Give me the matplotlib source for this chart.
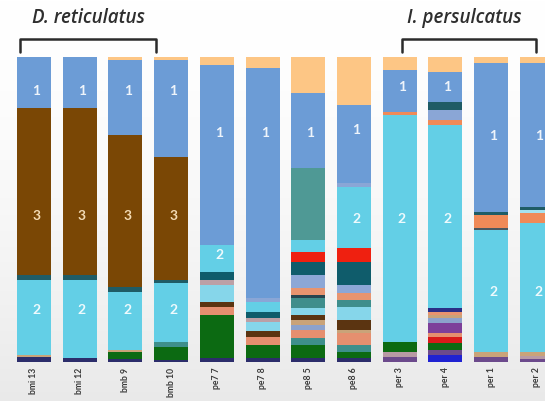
import numpy as np
import matplotlib
matplotlib.use("Agg")
import matplotlib.pyplot as plt
from matplotlib.lines import Line2D

# Sample names (x axis)
samples = ["bmi 13", "bmi 12", "bmb 9", "bmb 10", "pe7 7", "pe7 8",
           "pe8 5", "pe8 6", "per 3", "per 4", "per 1", "per 2"]

# Relative abundance (%) per taxon, one value per sample; stacked bottom -> top
navy       = [1.6, 1.3, 1.0, 0.7, 1.3, 1.3, 1.3, 1.3, 0, 0, 0, 0]
royal      = [0, 0, 0, 0, 0, 0, 0, 0, 0, 2.3, 0, 0]
purple     = [0, 0, 0, 0, 0, 0, 0, 0, 1.6, 1.6, 1.6, 1.0]
pink_low   = [0, 0, 0, 0, 0, 0, 0, 0, 1.6, 0, 0, 1.0]
green      = [0, 0, 2.3, 4.3, 14.1, 4.3, 4.3, 2.0, 3.3, 2.3, 0, 0]
red_low    = [0, 0, 0, 0, 0, 0, 0, 0, 0, 2.0, 0, 0]
teal_a     = [0, 0, 0, 1.6, 0, 0, 2.3, 2.3, 0, 0, 0, 0]
salmon_a   = [0, 0, 0, 0, 2.6, 2.6, 2.6, 3.9, 0, 1.3, 0, 0]
violet     = [0, 0, 0, 0, 0, 0, 0, 0, 0, 3.3, 0, 0]
bluegray_a = [0, 0, 0, 0, 0, 0, 1.6, 0, 0, 1.6, 0, 0]
tan        = [0.7, 0, 0.7, 0, 0, 0, 1.6, 1.0, 0, 1.0, 1.6, 1.3]
dbrown     = [0, 0, 0, 0, 1.6, 2.0, 1.6, 3.3, 0, 0, 0, 0]
lcyan      = [0, 0, 0, 0, 5.6, 3.0, 2.3, 4.3, 0, 0, 0, 0]
teal_b     = [0, 0, 0, 0, 0, 0, 3.3, 2.3, 0, 0, 0, 0]
dark_b     = [0, 0, 0, 0, 0, 0, 1.0, 0, 0, 0, 0, 0]
salmon_b   = [0, 0, 0, 0, 0, 0, 2.3, 2.3, 0, 1.0, 0, 0]
mauve      = [0, 0, 0, 0, 1.6, 1.3, 0, 0, 0, 0, 0, 0]
bluegray_b = [0, 0, 0, 0, 0, 0, 4.3, 2.6, 0, 0, 0, 0]
dteal      = [0, 0, 0, 0, 2.6, 2.0, 4.3, 7.5, 0, 0, 0, 0]
red        = [0, 0, 0, 0, 0, 0, 3.3, 4.6, 0, 0, 0, 0]
navy_hi    = [0, 0, 0, 0, 0, 0, 0, 0, 0, 1.3, 0, 0]
cyan2      = [24.6, 25.6, 19.0, 19.3, 8.9, 3.3, 3.9, 20.0, 74.4, 60.0, 40.0, 42.3]
darkgray   = [0, 0, 0, 0, 0, 0, 0, 0, 0, 0, 0.7, 0]
orange     = [0, 0, 0, 0, 0, 0, 0, 0, 1.0, 1.6, 4.3, 3.3]
ice        = [0, 0, 0, 0, 0, 0, 0, 0, 0, 0, 0, 1.0]
bluegray_c = [0, 0, 0, 0, 0, 1.3, 0, 1.3, 0, 3.3, 0, 0]
dteal2     = [1.6, 1.6, 1.6, 1.0, 0, 0, 0, 0, 0, 2.6, 1.0, 1.0]
brown3     = [54.8, 54.8, 49.8, 40.3, 0, 0, 0, 0, 0, 0, 0, 0]
grayteal   = [0, 0, 0, 0, 0, 0, 23.6, 0, 0, 0, 0, 0]
blue1      = [16.7, 16.7, 24.6, 31.8, 59.0, 75.4, 24.6, 25.6, 13.8, 9.8, 48.9, 47.2]
peach      = [0, 0, 1.0, 1.0, 2.6, 3.6, 11.8, 15.7, 4.3, 4.9, 2.0, 2.0]

# Group names over the sample blocks
groups = ["D. reticulatus", "I. persulcatus"]

layers = [
    (navy, "#2c2d6b"), (royal, "#1f22d2"), (purple, "#6c4a8c"),
    (pink_low, "#b89aa4"), (green, "#0c6a12"), (red_low, "#d91a1a"),
    (teal_a, "#3e8f8b"), (salmon_a, "#e58f6f"), (violet, "#7d3f9a"),
    (bluegray_a, "#8ca2cc"), (tan, "#c9a379"), (dbrown, "#5b3411"),
    (lcyan, "#86d6ea"), (teal_b, "#3f8e8c"), (dark_b, "#27454f"),
    (salmon_b, "#e8946f"), (mauve, "#bca0a6"), (bluegray_b, "#8ca7d6"),
    (dteal, "#0f5c6b"), (red, "#ef2010"), (navy_hi, "#2b2f86"),
    (cyan2, "#63cfe6"), (darkgray, "#4a5860"), (orange, "#f08a58"),
    (ice, "#a6e2ef"), (bluegray_c, "#8aa6d6"), (dteal2, "#1f5c66"),
    (brown3, "#7a4705"), (grayteal, "#4f9995"), (blue1, "#6c9cd6"),
    (peach, "#fdc685"),
]

# Cluster labels drawn inside the bars: (sample index, cluster, height %)
label_samples = [0, 0, 0, 1, 1, 1, 2, 2, 2, 3, 3, 3, 4, 4, 5, 6, 7, 7,
                 8, 8, 9, 9, 10, 10, 11, 11]
label_texts = ["1", "3", "2", "1", "3", "2", "1", "3", "2", "1", "3", "2",
               "1", "2", "1", "1", "1", "2", "1", "2", "1", "2", "1", "2",
               "1", "2"]
label_heights = [89, 48, 17, 89, 48, 17, 89, 48, 17, 89, 48, 17,
                 75, 35, 75, 75, 76, 47, 90, 47, 90, 47, 74, 23, 74, 23]
label_colors = {"1": "#eef4fb", "2": "#eefafd", "3": "#f4dcb6"}

W, H = 545, 401
fig = plt.figure(figsize=(W / 100, H / 100), dpi=100)

# soft grey backdrop, lighter towards the top
bg = fig.add_axes([0, 0, 1, 1], zorder=-10)
grad = np.linspace(0.0, 1.0, 200)[:, None] ** 1.6
shade = 1.0 - 0.085 * grad
bg.imshow(np.dstack([shade, shade, shade]), aspect="auto", extent=[0, 1, 0, 1],
          origin="upper")
bg.set_axis_off()

pitch = 45.7
first_center = 34.0
x0 = -first_center / pitch
x1 = x0 + W / pitch
ax = fig.add_axes([0, (H - 362) / H, 1, (362 - 57) / H])
ax.patch.set_alpha(0)
x = np.arange(len(samples))
bottom = np.zeros(len(samples))
for vals, col in layers:
    v = np.asarray(vals, dtype=float)
    ax.bar(x, v, bottom=bottom, width=34 / pitch, color=col, linewidth=0)
    bottom += v

for i, t, h in zip(label_samples, label_texts, label_heights):
    ax.text(x[i] + 0.05, h, t, ha="center", va="center", fontsize=10,
            fontweight="bold", color=label_colors[t], family=["Lato", "DejaVu Sans"])

ax.set_xlim(x0, x1)
ax.set_ylim(0, 100)
ax.set_yticks([])
ax.set_xticks(x)
ax.set_xticklabels(samples, rotation=90, fontsize=6.2, color="#3a3a3a",
                   fontweight="bold", family=["Lato", "DejaVu Sans"])
ax.tick_params(axis="x", length=0, pad=4)
for s in ax.spines.values():
    s.set_visible(False)


# group brackets and names (figure pixel coordinates, y measured from top)
def px(xp, yp):
    return xp / W, 1 - yp / H


bracket_px = [(20, 156), (402, 536)]
title_px = [88, 464]
for name, (left, right), cx in zip(groups, bracket_px, title_px):
    xs = [left, left, right, right]
    ys = [52, 39, 39, 52]
    fx, fy = zip(*[px(a_, b_) for a_, b_ in zip(xs, ys)])
    fig.add_artist(Line2D(fx, fy, color="#2b2b2b", lw=1.8,
                          solid_joinstyle="round", solid_capstyle="round"))
    tx, ty = px(cx, 18)
    fig.text(tx, ty, name, ha="center", va="center", fontsize=13.5,
             style="italic", fontweight="semibold", color="#2e2e2e",
             family=["Open Sans", "DejaVu Sans"])

fig.savefig("out.png", dpi=100)
